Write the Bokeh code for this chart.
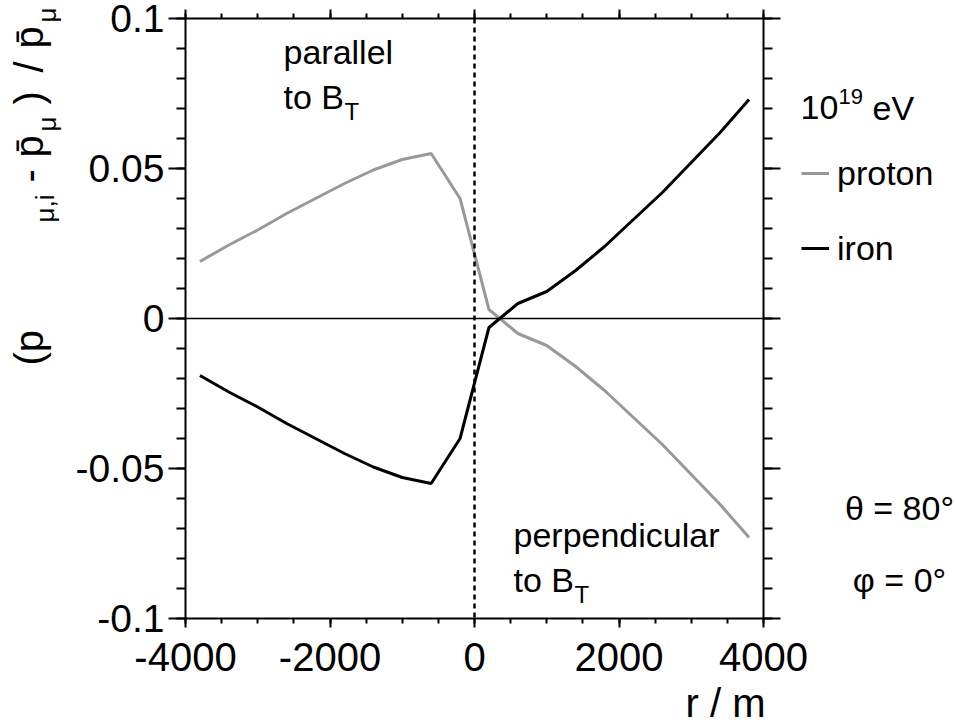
import math
from bokeh.plotting import figure
from bokeh.models import (Range1d, LinearAxis, FixedTicker, CustomJSTickFormatter, Span,
                          Label, Legend, LegendItem, GridBox)
from bokeh.embed import file_html
from bokeh.resources import INLINE

# ---- data ----
r_m = [-3800, -3400, -3000, -2600, -2200, -1800, -1400, -1000, -600, -200,
       200, 600, 1000, 1400, 1800, 2200, 2600, 3000, 3400, 3800]
proton = [0.019, 0.0245, 0.0295, 0.035, 0.040, 0.045, 0.0495, 0.053, 0.055, 0.040,
          0.003, -0.005, -0.009, -0.016, -0.024, -0.033, -0.042, -0.052, -0.062, -0.073]
iron = [-0.019, -0.0245, -0.0295, -0.035, -0.040, -0.045, -0.0495, -0.053, -0.055, -0.040,
        -0.003, 0.005, 0.009, 0.016, 0.024, 0.033, 0.042, 0.052, 0.062, 0.073]
x_major = [-4000, -2000, 0, 2000, 4000]
x_minor = list(range(-4000, 4001, 500))
y_major = [-0.1, -0.05, 0.0, 0.05, 0.1]
y_minor = [round(-0.1 + 0.01 * i, 2) for i in range(21)]
series_names = ["proton", "iron"]
series_colors = ["#999999", "black"]

FONT = "Liberation Sans"
W, H = 954, 727
FL, FT, FR, FB = 185, 18, 763, 618  # frame edges in canvas pixels

# ---------------- main plot ----------------
p = figure(width=W, height=H, output_backend="svg", toolbar_location=None,
           x_range=Range1d(-4000, 4000), y_range=Range1d(-0.1, 0.1),
           x_axis_location=None, y_axis_location=None,
           min_border_left=FL, min_border_right=W - FR,
           min_border_top=FT, min_border_bottom=H - FB)
p.frame_align = False
p.outline_line_color = None
p.xgrid.visible = False
p.ygrid.visible = False

yfmt = CustomJSTickFormatter(code="""
var s = tick.toFixed(2);
if (s.indexOf('.') >= 0) { s = s.replace(/0+$/, '').replace(/\\.$/, ''); }
if (s == '-0') s = '0';
return s;""")
xfmt = CustomJSTickFormatter(code="return tick.toFixed(0);")


def style_axis(ax, major_out, minor_out, size=None):
    ax.axis_line_width = 2
    ax.axis_line_color = "black"
    ax.major_tick_line_width = 2
    ax.minor_tick_line_width = 2
    ax.major_tick_line_color = "black"
    ax.minor_tick_line_color = "black"
    ax.major_tick_in = 0
    ax.minor_tick_in = 0
    ax.major_tick_out = major_out
    ax.minor_tick_out = minor_out
    ax.major_label_text_font = FONT
    ax.major_label_text_color = "black"
    if size:
        ax.major_label_text_font_size = size
    else:
        ax.major_label_text_font_size = "0px"
        ax.major_label_standoff = 0


bottom = LinearAxis(ticker=FixedTicker(ticks=x_major, minor_ticks=x_minor), formatter=xfmt)
style_axis(bottom, 9, 5, "40px")
bottom.major_label_standoff = 15
top = LinearAxis(ticker=FixedTicker(ticks=x_major, minor_ticks=x_minor), formatter=xfmt)
style_axis(top, 9, 5)
left = LinearAxis(ticker=FixedTicker(ticks=y_major, minor_ticks=y_minor), formatter=yfmt)
style_axis(left, 17, 9, "39px")
left.major_label_standoff = 4
right = LinearAxis(ticker=FixedTicker(ticks=y_major, minor_ticks=y_minor), formatter=yfmt)
style_axis(right, 17, 9)
p.add_layout(bottom, "below")
p.add_layout(top, "above")
p.add_layout(left, "left")
p.add_layout(right, "right")

p.add_layout(Span(location=0, dimension="width", line_color="black", line_width=1.5))
p.add_layout(Span(location=0, dimension="height", line_color="black", line_width=2.5,
                  line_dash="5 4"))

p.line(r_m, proton, line_color=series_colors[0], line_width=3)
p.line(r_m, iron, line_color=series_colors[1], line_width=3)

# ---------------- transparent text overlay (pixel coordinates, y down) ----------------
o = figure(width=W, height=H, output_backend="svg", toolbar_location=None, title=None,
           x_range=Range1d(0, W), y_range=Range1d(H, 0),
           x_axis_location=None, y_axis_location=None,
           min_border_left=0, min_border_right=0, min_border_top=0, min_border_bottom=0)
o.frame_align = False
o.outline_line_color = None
o.background_fill_alpha = 0
o.border_fill_alpha = 0
o.xgrid.visible = False
o.ygrid.visible = False

K = 0.38  # baseline correction (fraction of font size)


def txt(s, x, y, fs=34, rotated=False, align="left"):
    if rotated:
        x, angle = x - K * fs, math.pi / 2
    else:
        y, angle = y - K * fs, 0.0
    o.add_layout(Label(x=x, y=y, text=s, text_font=FONT, text_font_size=f"{fs}px",
                       text_color="black", text_align=align, text_baseline="alphabetic",
                       angle=angle))


txt("parallel", 283, 64)
txt("to B", 283, 109)
txt("T", 344, 120, fs=24)
txt("perpendicular", 513, 547)
txt("to B", 513, 592)
txt("T", 574, 603, fs=24)
txt("10", 800, 120)
txt("19", 838, 104, fs=22)
txt("eV", 872, 120)
txt("\u03b8 = 80\u00b0", 899, 520, align="center")
txt("\u03c6 = 0\u00b0", 899, 592, align="center")
txt("r / m", 765, 718, fs=40, align="right")

txt("(p", 44, 365, fs=40, rotated=True)
txt("\u03bc,i", 54, 222, fs=26, rotated=True)
txt("-", 44, 182, fs=40, rotated=True)
txt("p\u0304", 44, 157, fs=40, rotated=True)
txt("\u03bc", 56, 131, fs=26, rotated=True)
txt(")", 44, 104, fs=40, rotated=True)
txt("/", 44, 72, fs=40, rotated=True)
txt("p\u0304", 44, 48, fs=40, rotated=True)
txt("\u03bc", 56, 22, fs=26, rotated=True)

# legend samples (renderers without drawable points, carrying the series styles)
nan = float("nan")
lr = [o.line([nan], [nan], line_color=c, line_width=3) for c in series_colors]
legend = Legend(items=[LegendItem(label=n, renderers=[r]) for n, r in zip(series_names, lr)],
                location=(801, H - 268), orientation="vertical",
                border_line_color=None, background_fill_alpha=0,
                padding=0, margin=0, spacing=35, glyph_width=28, glyph_height=40,
                label_standoff=8, label_text_font=FONT, label_text_font_size="34px",
                label_text_color="black", label_height=40)
o.add_layout(legend, "center")

grid = GridBox(children=[(p, 0, 0), (o, 0, 0)])
open("out.html", "w").write(file_html(grid, INLINE))
